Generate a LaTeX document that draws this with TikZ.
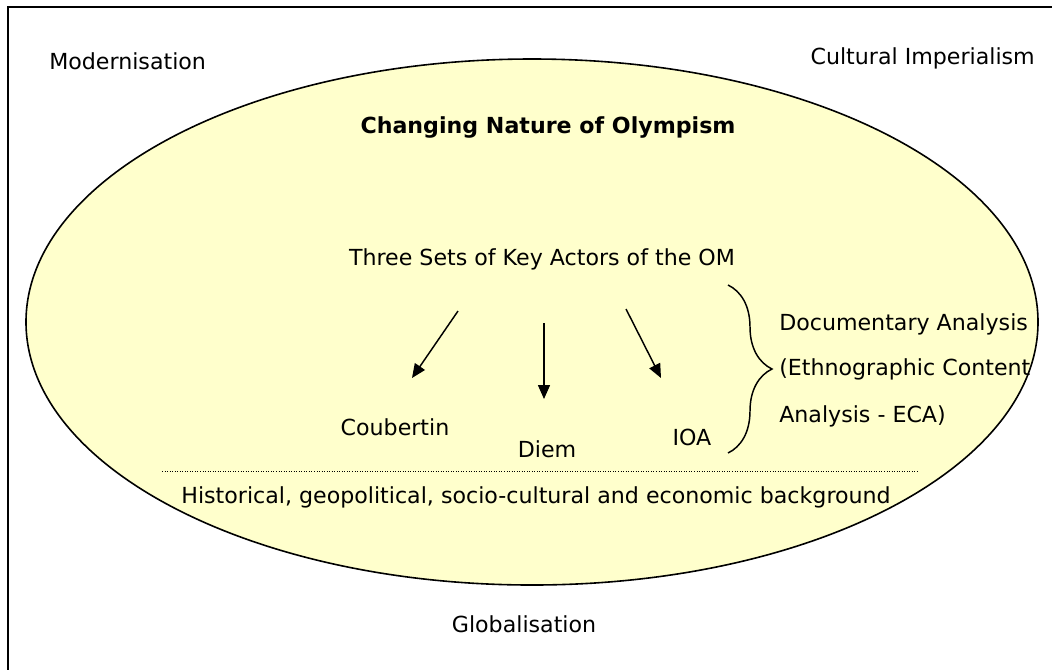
\documentclass[tikz,border=0pt]{standalone}
\usepackage{fontspec}
\setmainfont{DejaVu Sans}
\usetikzlibrary{arrows.meta,decorations.pathreplacing,shapes.geometric}
\definecolor{ellfill}{HTML}{FFFFCC}
\begin{document}
\begin{tikzpicture}[x=0.75pt,y=-0.75pt,
  txt/.style={font=\fontsize{16.6}{20}\selectfont, inner sep=0pt, text=black},
  ttl/.style={font=\fontsize{16.6}{20}\selectfont\bfseries, inner sep=0pt, text=black},
  arr/.style={line width=1.1pt, -{Triangle[length=10.5pt,width=9pt]}},
  frame/.style={line width=1.5pt},
  dotline/.style={line width=0.7pt, dash pattern=on 0.7pt off 1.2pt},
  bracestyle/.style={line width=1.1pt, decorate, decoration={brace, amplitude=33pt}}]
\useasboundingbox (0,0) rectangle (1052,669);
\draw[frame] (8,671) -- (8,7) -- (1054,7);
\node[draw, line width=1.2pt, fill=ellfill, ellipse, minimum width=1012*0.75pt, minimum height=526*0.75pt, inner sep=0pt] (ell) at (532,322) {};
\node[txt, anchor=base west] (mod) at (49,69) {Modernisation};
\node[txt, anchor=base east] (cult) at (1035,64) {Cultural Imperialism};
\node[ttl, anchor=base] (title) at (548,133) {Changing Nature of Olympism};
\node[txt, anchor=base] (three) at (542,265) {Three Sets of Key Actors of the OM};
\node[txt, anchor=base] (coub) at (395,435) {Coubertin};
\node[txt, anchor=base] (diem) at (547,457) {Diem};
\node[txt, anchor=base] (ioa) at (692,445) {IOA};
\node[txt, anchor=base west] (doc1) at (779,330) {Documentary Analysis};
\node[txt, anchor=base west] (doc2) at (779,375) {(Ethnographic Content};
\node[txt, anchor=base west] (doc3) at (779,422) {Analysis - ECA)};
\node[txt, anchor=base] (hist) at (536,503) {Historical, geopolitical, socio-cultural and economic background};
\node[txt, anchor=base] (glob) at (524,632) {Globalisation};
\coordinate (c1) at (458,311); \coordinate (c2) at (412,378);
\coordinate (d1) at (544,323); \coordinate (d2) at (544,399);
\coordinate (i1) at (626,309); \coordinate (i2) at (661,378);
\draw[arr] (c1) -- (c2);
\draw[arr] (d1) -- (d2);
\draw[arr] (i1) -- (i2);
\coordinate (b1) at (728,285); \coordinate (b2) at (728,453);
\draw[bracestyle] (b1) -- (b2);
\coordinate (l1) at (162,471); \coordinate (l2) at (917,471);
\draw[dotline] (l1) -- (l2);
\end{tikzpicture}
\end{document}
